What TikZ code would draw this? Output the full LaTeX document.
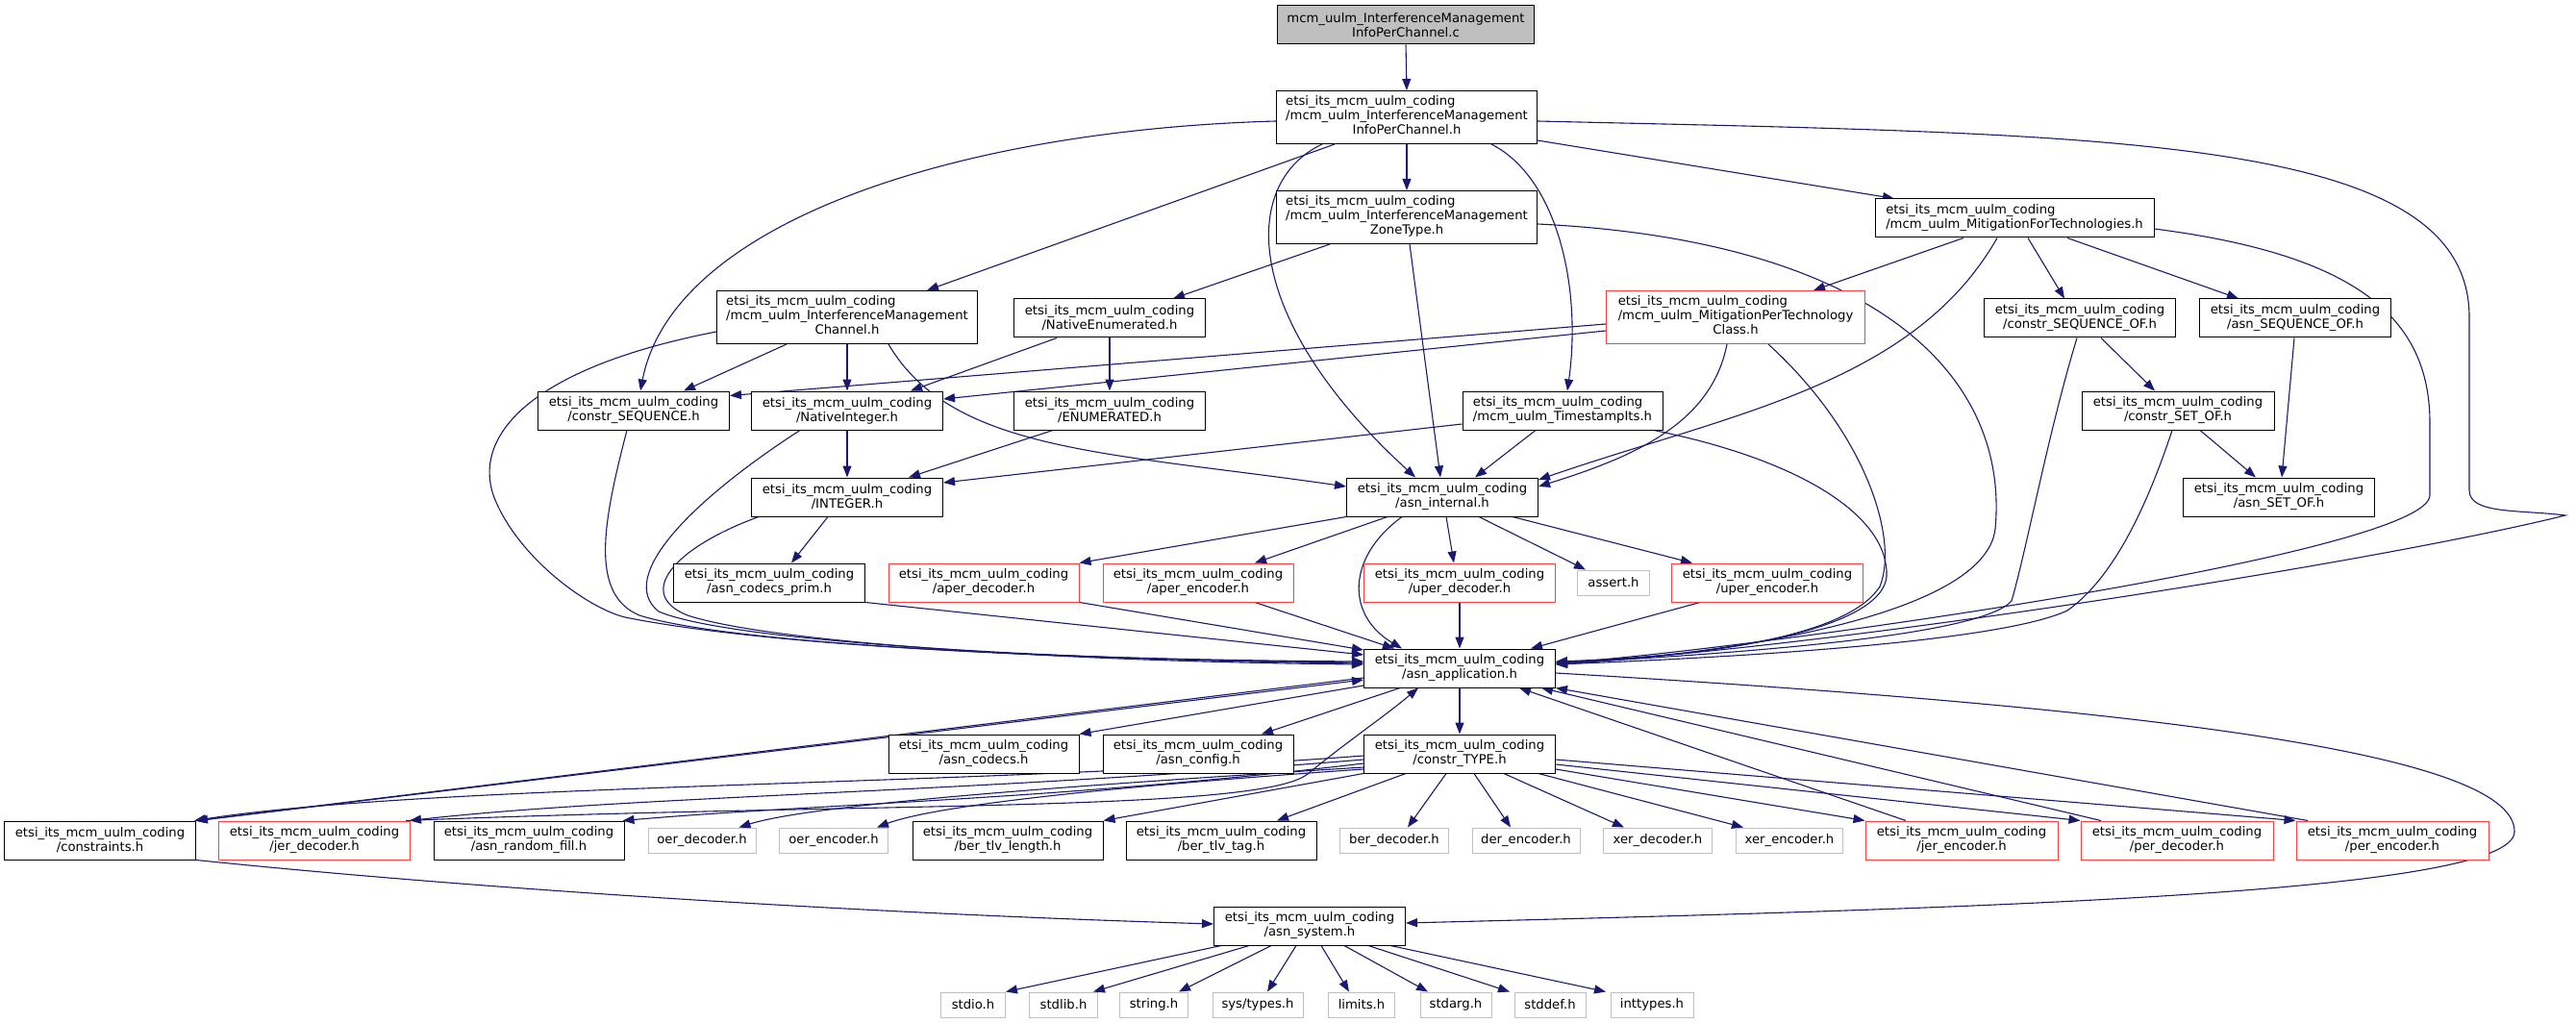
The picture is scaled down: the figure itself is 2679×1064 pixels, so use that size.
\documentclass[tikz,border=0pt]{standalone}
\usepackage{fontspec}
\setmainfont{DejaVu Sans}
\usetikzlibrary{arrows.meta}
\definecolor{dxnavy}{HTML}{191970}
\definecolor{dxred}{RGB}{255,64,64}
\definecolor{dxgray}{HTML}{BFBFBF}
\newcommand{\dxfont}{\fontsize{13.2}{15}\selectfont}
\newcommand{\dxtwol}[2]{\begin{tabular}{@{}l@{}}#1\\#2\end{tabular}}
\newcommand{\dxthreel}[3]{\begin{tabular}{@{}l@{}}#1\\#2\\\multicolumn{1}{@{}c@{}}{#3}\end{tabular}}
\newcommand{\dxe}{etsi\_its\_mcm\_uulm\_coding}
\pgfdeclarelayer{bg}
\pgfsetlayers{bg,main}
\begin{document}
\begin{tikzpicture}[x=1pt,y=-1pt,
 box/.style={draw=black, line width=1pt, fill=white, inner sep=0pt, minimum height=40pt, font=\dxfont, align=center, text=black},
 redbox/.style={box, draw=dxred},
 sysbox/.style={box, draw=dxgray, minimum height=26pt},
 tall/.style={minimum height=55pt},
 dep/.style={draw=dxnavy, line width=1.1pt, -{Triangle[length=12pt,width=9pt]}}]
\useasboundingbox (0,0) rectangle (2679,1064);
% nodes
\node[box, fill=dxgray, minimum width=267pt] (root) at (1462,26) {mcm\_uulm\_InterferenceManagement\\InfoPerChannel.c};
\node[box, tall, minimum width=271pt] (imipc) at (1463,122) {\dxthreel{\dxe}{/mcm\_uulm\_InterferenceManagement}{InfoPerChannel.h}};
\node[box, tall, minimum width=271pt] (zone) at (1463,226) {\dxthreel{\dxe}{/mcm\_uulm\_InterferenceManagement}{ZoneType.h}};
\node[box, minimum width=290pt] (mft) at (2095,227) {\dxtwol{\dxe}{/mcm\_uulm\_MitigationForTechnologies.h}};
\node[box, tall, minimum width=271pt] (chan) at (881,330) {\dxthreel{\dxe}{/mcm\_uulm\_InterferenceManagement}{Channel.h}};
\node[box, minimum width=199pt] (natenum) at (1154,331) {\dxe\\/NativeEnumerated.h};
\node[redbox, tall, minimum width=269pt] (mptc) at (1805,330) {\dxthreel{\dxe}{/mcm\_uulm\_MitigationPerTechnology}{Class.h}};
\node[box, minimum width=199pt] (cseqof) at (2163,331) {\dxe\\/constr\_SEQUENCE\_OF.h};
\node[box, minimum width=199pt] (aseqof) at (2387,331) {\dxe\\/asn\_SEQUENCE\_OF.h};
\node[box, minimum width=199pt] (cseq) at (659,427) {\dxe\\/constr\_SEQUENCE.h};
\node[box, minimum width=199pt] (natint) at (881,427) {\dxe\\/NativeInteger.h};
\node[box, minimum width=199pt] (enumh) at (1154,427) {\dxe\\/ENUMERATED.h};
\node[box, minimum width=208pt] (tstamp) at (1625,427) {\dxtwol{\dxe}{/mcm\_uulm\_TimestampIts.h}};
\node[box, minimum width=200pt] (csetof) at (2265,427) {\dxe\\/constr\_SET\_OF.h};
\node[box, minimum width=199pt] (integer) at (881,517) {\dxe\\/INTEGER.h};
\node[box, minimum width=199pt] (asnint) at (1500,517) {\dxe\\/asn\_internal.h};
\node[box, minimum width=199pt] (asetof) at (2370,517) {\dxe\\/asn\_SET\_OF.h};
\node[box, minimum width=199pt] (codprim) at (800,606) {\dxe\\/asn\_codecs\_prim.h};
\node[redbox, minimum width=198pt] (aperdec) at (1023,606) {\dxe\\/aper\_decoder.h};
\node[redbox, minimum width=198pt] (aperenc) at (1246,606) {\dxe\\/aper\_encoder.h};
\node[redbox, minimum width=199pt] (uperdec) at (1518,606) {\dxe\\/uper\_decoder.h};
\node[sysbox, minimum width=75pt] (assert) at (1678,606) {assert.h};
\node[redbox, minimum width=199pt] (uperenc) at (1838,606) {\dxe\\/uper\_encoder.h};
\node[box, minimum width=199pt] (asnapp) at (1518,695) {\dxe\\/asn\_application.h};
\node[box, minimum width=198pt] (codecs) at (1023,784) {\dxe\\/asn\_codecs.h};
\node[box, minimum width=198pt] (config) at (1246,784) {\dxe\\/asn\_config.h};
\node[box, minimum width=199pt] (ctype) at (1518,784) {\dxe\\/constr\_TYPE.h};
\node[box, minimum width=199pt] (constraints) at (104,874) {\dxe\\/constraints.h};
\node[redbox, minimum width=199pt] (jerdec) at (327,874) {\dxe\\/jer\_decoder.h};
\node[box, minimum width=198pt] (randfill) at (550,874) {\dxe\\/asn\_random\_fill.h};
\node[sysbox, minimum width=112pt] (oerdec) at (730,874) {oer\_decoder.h};
\node[sysbox, minimum width=113pt] (oerenc) at (867,874) {oer\_encoder.h};
\node[box, minimum width=198pt] (tlvlen) at (1048,874) {\dxe\\/ber\_tlv\_length.h};
\node[box, minimum width=198pt] (tlvtag) at (1270,874) {\dxe\\/ber\_tlv\_tag.h};
\node[sysbox, minimum width=113pt] (berdec) at (1450,874) {ber\_decoder.h};
\node[sysbox, minimum width=112pt] (derenc) at (1587,874) {der\_encoder.h};
\node[sysbox, minimum width=113pt] (xerdec) at (1724,874) {xer\_decoder.h};
\node[sysbox, minimum width=111pt] (xerenc) at (1861,874) {xer\_encoder.h};
\node[redbox, minimum width=200pt] (jerenc) at (2040,874) {\dxe\\/jer\_encoder.h};
\node[redbox, minimum width=200pt] (perdec) at (2264,874) {\dxe\\/per\_decoder.h};
\node[redbox, minimum width=200pt] (perenc) at (2488,874) {\dxe\\/per\_encoder.h};
\node[box, minimum width=199pt] (asnsys) at (1362,963) {\dxe\\/asn\_system.h};
\node[sysbox, minimum width=67pt] (stdio) at (1012,1045) {stdio.h};
\node[sysbox, minimum width=71pt] (stdlib) at (1106,1045) {stdlib.h};
\node[sysbox, minimum width=71pt] (string) at (1200,1045) {string.h};
\node[sysbox, minimum width=94pt] (systypes) at (1308,1045) {sys/types.h};
\node[sysbox, minimum width=69pt] (limits) at (1416,1045) {limits.h};
\node[sysbox, minimum width=74pt] (stdarg) at (1514,1045) {stdarg.h};
\node[sysbox, minimum width=74pt] (stddef) at (1612,1045) {stddef.h};
\node[sysbox, minimum width=86pt] (inttypes) at (1718,1045) {inttypes.h};
\begin{pgfonlayer}{bg}
\fill[white] (0,0) rectangle (2679,1064);
% top part
\draw[dep] (root.south) -- (imipc.north);
\draw[dep] (imipc.south) -- (zone.north);
\draw[dep] ([xshift=-75pt]imipc.south) -- ([xshift=83pt]chan.north);
\draw[dep] ([yshift=-4pt]imipc.west) .. controls (1000,135) and (700,230) .. ([xshift=7pt]cseq.north);
\draw[dep] ([xshift=-88pt]imipc.south) .. controls (1290,190) and (1290,330) .. ([xshift=-28pt]asnint.north);
\draw[dep] ([xshift=88pt]imipc.south) .. controls (1620,185) and (1645,300) .. ([xshift=5pt]tstamp.north);
\draw[dep] ([yshift=-24pt]imipc.east) -- ([xshift=-125pt]mft.north);
\draw[dep] ([yshift=-4pt]imipc.east) .. controls (2200,140) and (2568,140) .. (2568,330) -- (2568,510) .. controls (2568,535) and (2620,530) .. (2668,536) .. controls (2450,590) and (1850,680) .. ([yshift=6pt]asnapp.east);
% zone
\draw[dep] ([xshift=-80pt]zone.south) -- ([xshift=66pt]natenum.north);
\draw[dep] ([xshift=3pt]zone.south) -- ([xshift=-2pt]asnint.north);
\draw[dep] ([yshift=-7pt]zone.east) .. controls (1950,250) and (2090,390) .. (2075,550) .. controls (2065,640) and (1800,680) .. ([yshift=4pt]asnapp.east);
% mft
\draw[dep] ([xshift=-53pt]mft.south) -- ([xshift=81pt]mptc.north);
\draw[dep] ([xshift=-18pt]mft.south) .. controls (1990,400) and (1800,430) .. ([yshift=18pt]asnint.east);
\draw[dep] ([xshift=14pt]mft.south) -- ([xshift=-16pt]cseqof.north);
\draw[dep] ([xshift=55pt]mft.south) -- ([xshift=-59pt]aseqof.north);
\draw[dep] ([yshift=-11pt]mft.east) .. controls (2450,265) and (2527,330) .. (2527,440) -- (2527,515) .. controls (2527,575) and (1850,672) .. ([yshift=5pt]asnapp.east);
% mptc
\draw[dep] ([yshift=-7pt]mptc.west) -- ([yshift=-5pt]cseq.north east);
\draw[dep] ([yshift=-14pt]mptc.west) -- ([yshift=12pt]natint.east);
\draw[dep] ([xshift=-9pt]mptc.south) .. controls (1780,440) and (1700,475) .. ([yshift=11pt]asnint.east);
\draw[dep] ([xshift=34pt]mptc.south) .. controls (1940,450) and (1975,560) .. (1955,610) .. controls (1920,665) and (1760,683) .. ([yshift=7pt]asnapp.east);
% chan
\draw[dep] ([xshift=-63pt]chan.south) -- ([xshift=52pt]cseq.north);
\draw[dep] (chan.south) -- (natint.north);
\draw[dep] ([xshift=43pt]chan.south) .. controls (990,470) and (1150,470) .. ([yshift=11pt]asnint.west);
\draw[dep] ([yshift=-15pt]chan.west) .. controls (540,385) and (490,460) .. (515,520) .. controls (540,580) and (610,632) .. (650,642) .. controls (800,672) and (1100,686) .. ([yshift=7pt]asnapp.west);
% natenum, enum, natint, cseq
\draw[dep] ([xshift=-55pt]natenum.south) -- ([xshift=66pt]natint.north);
\draw[dep] (natenum.south) -- (enumh.north);
\draw[dep] ([xshift=-59pt]enumh.south) -- ([xshift=64pt]integer.north);
\draw[dep] (natint.south) -- (integer.north);
\draw[dep] ([xshift=-49pt]natint.south) .. controls (720,520) and (640,600) .. (685,636) .. controls (760,668) and (1100,686) .. ([yshift=5pt]asnapp.west);
\draw[dep] ([xshift=-7pt]cseq.south) .. controls (628,540) and (612,618) .. (665,640) .. controls (760,670) and (1100,686) .. ([yshift=6pt]asnapp.west);
% tstamp
\draw[dep] ([yshift=-14pt]tstamp.west) -- ([yshift=15pt]integer.east);
\draw[dep] ([xshift=-28pt]tstamp.south) -- ([xshift=34pt]asnint.north);
\draw[dep] ([xshift=95pt]tstamp.south) .. controls (1880,480) and (1965,540) .. (1962,600) .. controls (1955,660) and (1760,684) .. ([yshift=6pt]asnapp.east);
% integer, codprim
\draw[dep] ([xshift=-20pt]integer.south) -- ([xshift=23pt]codprim.north);
\draw[dep] ([xshift=-92pt]integer.south) .. controls (700,570) and (660,618) .. (715,640) .. controls (800,668) and (1100,688) .. ([yshift=4pt]asnapp.west);
\draw[dep] (codprim.south east) -- ([yshift=14pt]asnapp.west);
% seq of / set of
\draw[dep] ([xshift=22pt]cseqof.south) -- ([xshift=-24pt]csetof.north);
\draw[dep] ([xshift=-3pt]cseqof.south) .. controls (2130,450) and (2108,570) .. (2092,625) .. controls (2060,662) and (1800,680) .. ([yshift=5pt]asnapp.east);
\draw[dep] ([xshift=-1pt]aseqof.south) -- ([xshift=3pt]asetof.north);
\draw[dep] ([xshift=23pt]csetof.south) -- ([xshift=-24pt]asetof.north);
\draw[dep] ([xshift=-6pt]csetof.south) .. controls (2235,520) and (2200,600) .. (2150,635) .. controls (2080,668) and (1800,684) .. ([yshift=4pt]asnapp.east);
% asn_internal
\draw[dep] ([xshift=-42pt]asnint.south) .. controls (1400,580) and (1400,640) .. ([xshift=-60pt]asnapp.north);
\draw[dep] (asnint.south west) -- (aperdec.north east);
\draw[dep] ([xshift=-57pt]asnint.south) -- ([xshift=59pt]aperenc.north);
\draw[dep] ([xshift=4pt]asnint.south) -- ([xshift=-6pt]uperdec.north);
\draw[dep] ([xshift=38pt]asnint.south) -- ([xshift=-29pt]assert.north);
\draw[dep] ([xshift=73pt]asnint.south) -- ([xshift=-78pt]uperenc.north);
% codecs into asn_application
\draw[dep] (aperdec.south east) -- ([yshift=19pt]asnapp.west);
\draw[dep] ([xshift=59pt]aperenc.south) -- ([xshift=-68pt]asnapp.north);
\draw[dep] (uperdec.south) -- (asnapp.north);
\draw[dep] ([xshift=-70pt]uperenc.south) -- ([xshift=74pt]asnapp.north);
% asn_application out
\draw[dep] ([yshift=-18pt]asnapp.west) -- (codecs.north east);
\draw[dep] ([xshift=-62pt]asnapp.south) -- ([xshift=66pt]config.north);
\draw[dep] (asnapp.south) -- (ctype.north);
\draw[dep] ([yshift=-10pt]asnapp.west) -- (constraints.north east);
\draw[dep] ([xshift=2pt]constraints.north east) -- ([yshift=-12pt]asnapp.west);
\draw[dep] ([yshift=-5pt]asnapp.east) .. controls (2300,740) and (2615,790) .. (2615,865) .. controls (2615,930) and (2050,945) .. ([yshift=3pt]asnsys.east);
\draw[dep] (constraints.south east) .. controls (500,925) and (900,950) .. ([yshift=2pt]asnsys.west);
% back edges into asn_application
\draw[dep] ([xshift=-5pt]jerdec.north east) .. controls (900,834) and (1310,845) .. (1360,805) .. controls (1400,772) and (1440,745) .. ([xshift=-43pt]asnapp.south);
\draw[dep] ([xshift=-58pt]jerenc.north) -- ([xshift=62pt]asnapp.south);
\draw[dep] ([xshift=-79pt]perdec.north) -- ([xshift=85pt]asnapp.south);
\draw[dep] ([xshift=-88pt]perenc.north) -- (asnapp.south east);
% constr_TYPE
\draw[dep] ([yshift=-2pt]ctype.west) .. controls (1000,818) and (450,815) .. ([xshift=-2pt]constraints.north east);
\draw[dep] ([yshift=-6pt]ctype.west) .. controls (1000,825) and (650,828) .. ([xshift=-1pt]jerdec.north east);
\draw[dep] ([yshift=-10pt]ctype.west) .. controls (1100,832) and (850,836) .. ([xshift=-2pt]randfill.north east);
\draw[dep] ([yshift=-14pt]ctype.west) .. controls (1150,815) and (850,835) .. ([xshift=-18pt]oerdec.north east);
\draw[dep] ([yshift=-16pt]ctype.west) .. controls (1200,815) and (980,835) .. ([xshift=-12pt]oerenc.north east);
\draw[dep] (ctype.south west) -- (tlvlen.north east);
\draw[dep] ([xshift=-56pt]ctype.south) -- ([xshift=58pt]tlvtag.north);
\draw[dep] ([xshift=-14pt]ctype.south) -- ([xshift=14pt]berdec.north);
\draw[dep] ([xshift=15pt]ctype.south) -- ([xshift=-16pt]derenc.north);
\draw[dep] ([xshift=46pt]ctype.south) -- ([xshift=-35pt]xerdec.north);
\draw[dep] ([xshift=82pt]ctype.south) -- ([xshift=-48pt]xerenc.north);
\draw[dep] ([yshift=-16pt]ctype.east) -- (jerenc.north west);
\draw[dep] ([yshift=-11pt]ctype.east) -- (perdec.north west);
\draw[dep] ([yshift=-6pt]ctype.east) -- (perenc.north west);
% asn_system
\draw[dep] ([xshift=-92pt]asnsys.south) -- (stdio.north east);
\draw[dep] ([xshift=-63pt]asnsys.south) -- ([xshift=-5pt]stdlib.north east);
\draw[dep] ([xshift=-40pt]asnsys.south) -- ([xshift=26pt]string.north);
\draw[dep] ([xshift=-14pt]asnsys.south) -- ([xshift=10pt]systypes.north);
\draw[dep] ([xshift=12pt]asnsys.south) -- ([xshift=-13pt]limits.north);
\draw[dep] ([xshift=36pt]asnsys.south) -- ([xshift=-29pt]stdarg.north);
\draw[dep] ([xshift=61pt]asnsys.south) -- ([xshift=-42pt]stddef.north);
\draw[dep] ([xshift=84pt]asnsys.south) -- ([xshift=-48pt]inttypes.north);
\end{pgfonlayer}
\end{tikzpicture}
\end{document}
